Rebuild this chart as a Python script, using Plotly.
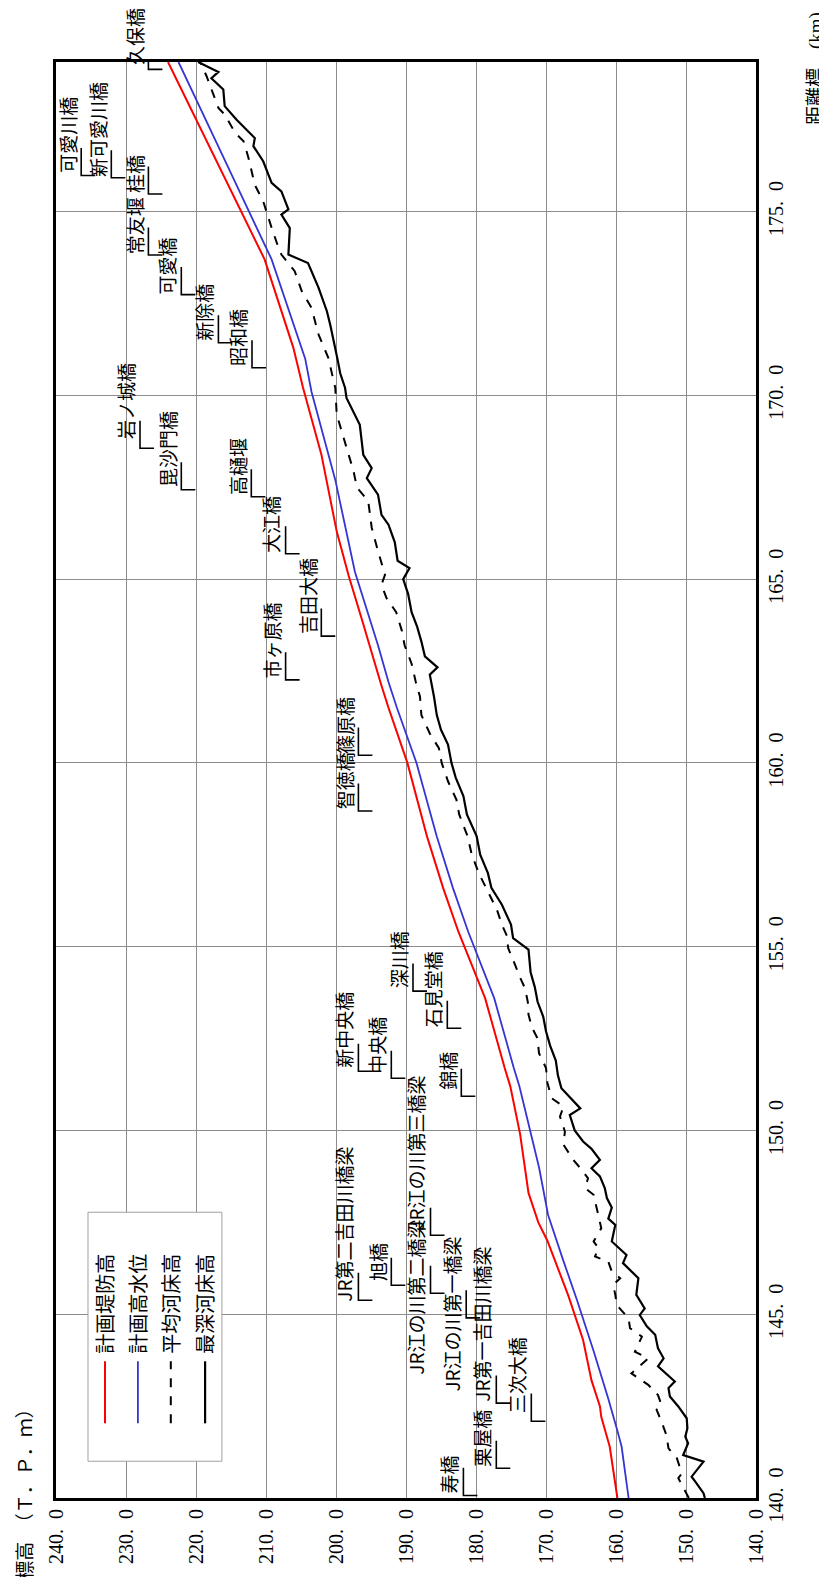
import plotly.graph_objects as go

# ---------------- data ----------------
series_names = ["計画堤防高", "計画高水位", "平均河床高", "最深河床高"]

# 計画堤防高 (red)
levee_km = [140.0, 140.5, 141.1, 141.4, 142.2, 142.5, 143.2, 144.3, 145.5, 147.0, 147.5, 148.3,
            149.9, 150.6, 151.2, 151.7, 153.6, 155.4, 156.6, 158.0, 160.0, 161.5, 162.1, 163.9,
            165.1, 166.3, 168.4, 170.2, 171.3, 173.7, 176.2, 179.07]
levee_elev = [159.8, 160.2, 160.6, 160.9, 162.1, 162.3, 163.5, 164.7, 166.8, 169.8, 171.1, 172.5,
              173.7, 174.4, 175.1, 175.9, 178.7, 182.5, 184.7, 187.0, 189.8, 192.5, 193.5, 196.3,
              198.2, 199.9, 202.1, 204.7, 206.1, 210.2, 216.6, 224.0]

# 計画高水位 (blue)
hwl_km = [140.0, 140.6, 141.4, 141.9, 142.7, 144.0, 145.4, 146.5, 147.7, 149.0, 150.0, 150.6,
          151.2, 151.7, 153.6, 155.4, 156.6, 158.0, 160.0, 161.5, 162.2, 163.2, 165.2, 167.7,
          170.1, 171.0, 173.7, 176.2, 179.07]
hwl_elev = [158.2, 158.6, 159.2, 159.9, 161.1, 163.2, 165.6, 167.6, 169.7, 171.0, 172.3, 173.1,
            173.8, 174.6, 177.4, 181.1, 183.3, 185.6, 188.5, 191.3, 192.5, 194.0, 197.3, 200.1,
            203.5, 204.4, 209.2, 215.4, 222.5]

# 平均河床高 (dashed)
mean_km = [140.0, 140.18, 140.54, 140.67, 141.08, 141.35, 141.71, 142.08, 142.4, 142.53, 142.8,
           143.08, 143.39, 143.8, 143.98, 144.39, 144.62, 144.89, 145.25, 145.53, 145.8, 145.98,
           146.16, 146.43, 146.57, 146.8, 146.98, 147.34, 147.7, 148.07, 148.25, 148.43, 148.7,
           148.93, 149.2, 149.61, 149.97, 150.38, 150.65, 150.88, 151.3, 151.7, 152.1, 152.5,
           152.8, 153.15, 153.5, 153.87, 154.2, 154.5, 154.96, 155.3, 155.6, 156.0, 156.5,
           157.0, 157.5, 158.0, 158.6, 159.0, 159.5, 160.0, 160.4, 160.8, 161.3, 161.8, 162.2,
           162.7, 163.2, 163.6, 164.1, 164.49, 164.85, 165.12, 165.76, 166.4, 167.13, 167.49,
           167.94, 168.58, 169.48, 170.2, 171.02, 171.66, 172.38, 172.84, 173.38, 173.83,
           174.01, 174.56, 175.28, 175.73, 176.46, 176.91, 177.14, 177.64, 177.82, 178.69, 179.07]
mean_elev = [149.6, 150.1, 151.1, 150.6, 151.3, 152.5, 152.8, 153.5, 154.2, 153.5, 154.0,
             155.4, 157.8, 155.4, 157.3, 156.3, 158.0, 158.2, 159.9, 160.1, 160.4, 159.4,
             160.6, 161.1, 163.0, 162.5, 163.2, 162.1, 162.5, 163.0, 163.2, 164.4, 164.0,
             164.9, 166.1, 167.5, 167.3, 168.0, 167.5, 169.2, 169.8, 170.0, 171.0, 171.2,
             172.0, 172.5, 172.6, 173.0, 173.8, 174.4, 175.4, 175.6, 176.3, 177.0, 178.3,
             179.6, 180.6, 181.2, 182.4, 182.8, 184.0, 184.9, 185.3, 186.6, 187.8, 188.0, 188.6,
             189.2, 190.2, 190.6, 191.4, 192.8, 193.5, 193.0, 194.0, 194.9, 195.4, 197.0,
             197.5, 198.5, 199.9, 200.1, 201.1, 202.5, 203.5, 204.9, 205.9, 207.8,
             208.2, 209.2, 210.4, 211.6, 212.5, 213.2, 214.4, 215.9, 216.8, 218.5, 219.4]

# 最深河床高 (black)
deep_km = [140.0, 140.13, 140.45, 140.58, 140.99, 141.17, 141.49, 141.67, 141.9, 142.17, 142.49,
           142.76, 142.99, 143.17, 143.58, 143.8, 144.07, 144.44, 144.67, 144.98, 145.16, 145.53,
           145.98, 146.39, 146.61, 146.98, 147.16, 147.43, 147.6, 147.9, 148.16, 148.43, 148.75,
           148.97, 149.2, 149.5, 149.7, 150.0, 150.42, 150.6, 151.15, 151.5, 151.9, 152.3, 152.7,
           153.1, 153.5, 153.9, 154.3, 154.6, 154.92, 155.23, 155.6, 156.14, 156.6, 157.0, 157.5,
           158.0, 158.6, 159.1, 159.6, 160.0, 160.5, 160.9, 161.3, 161.8, 162.3, 162.4, 162.6,
           162.9, 163.3, 163.7, 164.1, 164.6, 165.0, 165.3, 165.5, 166.0, 166.48, 166.75, 167.3,
           167.75, 168.02, 168.38, 169.2, 169.93, 170.2, 170.6, 171.0, 171.5, 171.9, 172.29,
           172.93, 173.6, 173.83, 174.55, 174.92, 175.06, 175.55, 175.78, 176.37, 176.78, 177.0,
           177.5, 177.87, 178.32, 178.63, 178.8, 179.07]
deep_elev = [147.3, 147.5, 148.7, 149.2, 147.5, 150.4, 149.7, 150.1, 149.8, 149.9, 151.1,
             152.3, 152.5, 151.6, 154.0, 153.2, 154.0, 154.4, 155.6, 156.6, 155.9, 157.1,
             156.8, 159.0, 158.5, 160.6, 160.4, 160.1, 161.1, 160.6, 161.3, 161.6, 162.3,
             163.5, 162.3, 163.5, 164.7, 165.9, 166.6, 165.1, 167.8, 168.3, 168.6, 169.4, 170.0,
             170.4, 171.2, 171.6, 172.2, 172.3, 172.5, 174.7, 175.0, 176.3, 177.8, 178.3, 179.4,
             179.9, 181.3, 181.8, 182.9, 183.5, 184.0, 185.0, 185.6, 186.0, 186.5, 186.6, 185.5,
             187.3, 187.8, 188.4, 189.2, 189.7, 190.4, 189.5, 191.2, 191.6, 192.5, 193.5, 194.0,
             195.6, 194.9, 196.1, 196.6, 198.5, 198.7, 199.4, 199.8, 200.3, 200.8, 201.3,
             202.5, 204.0, 206.8, 206.6, 207.8, 206.8, 207.8, 209.2, 210.4, 211.8, 211.6,
             214.2, 215.9, 216.1, 217.8, 216.8, 219.7]

# bridges / weirs: leader km, label elevation, km where the label text starts
bridge_names = ["寿橋", "栗屋橋", "三次大橋", "JR第一吉田川橋梁", "JR江の川第一橋梁",
                "JR第二吉田川橋梁", "JR江の川第二橋梁", "旭橋", "JR江の川第三橋梁", "錦橋",
                "中央橋", "新中央橋", "石見堂橋", "深川橋", "智徳橋", "篠原橋", "市ヶ原橋",
                "吉田大橋", "大江橋", "高樋堰", "毘沙門橋", "岩ノ城橋", "昭和橋", "新除橋",
                "可愛橋", "常友堰", "桂橋", "新可愛川橋", "可愛川橋", "久保橋"]
bridge_km = [140.07, 140.81, 142.09, 142.58, 144.9, 145.38, 145.57, 145.79, 147.15, 150.93,
             151.42, 151.61, 152.78, 153.79, 158.69, 160.21, 162.26, 163.45, 165.69, 167.24,
             167.43, 168.56, 170.75, 171.43, 172.74, 173.82, 175.48, 175.92, 175.98, 178.87]
label_elev = [181.8, 177.1, 172.1, 177.1, 181.4, 196.8, 186.5, 192.1, 186.5, 182.1,
              192.1, 196.8, 184.1, 189.0, 196.8, 196.8, 207.2, 202.1, 207.2, 212.1,
              222.1, 228.0, 212.0, 216.8, 222.1, 226.8, 226.8, 232.1, 236.4, 226.8]
label_km = [140.12, 140.86, 142.3, 142.63, 142.9, 145.35, 143.34, 145.9, 147.26, 151.1,
            151.55, 151.7, 152.8, 153.87, 158.75, 160.25, 162.3, 163.5, 165.7, 167.3,
            167.5, 168.8, 170.8, 171.5, 172.75, 173.85, 175.5, 175.95, 176.05, 179.0]

elev_ticks = [240, 230, 220, 210, 200, 190, 180, 170, 160, 150, 140]
km_ticks = [140, 145, 150, 155, 160, 165, 170, 175]

# ---------------- figure ----------------
SERIF = "Liberation Serif, Noto Sans CJK JP"
SANS = "Noto Sans CJK JP"

styles = [dict(color="#ff0000", width=2),
          dict(color="#3535d5", width=1.8),
          dict(color="#000000", width=2, dash="dash"),
          dict(color="#000000", width=2.2)]

fig = go.Figure()
for name, xs, ys, st in zip(series_names,
                            [levee_elev, hwl_elev, mean_elev, deep_elev],
                            [levee_km, hwl_km, mean_km, deep_km], styles):
    fig.add_trace(go.Scatter(x=xs, y=ys, name=name, mode="lines", line=st,
                             showlegend=False, hoverinfo="skip"))

# bridge leader brackets
UNDER = 0.75   # km length of underline
LEAD = 2.0     # m length of leader
bx, by = [], []
for km, el in zip(bridge_km, label_elev):
    bx += [el, el, el - LEAD, None]
    by += [km + UNDER, km, km, None]
fig.add_trace(go.Scatter(x=bx, y=by, mode="lines", line=dict(color="black", width=1.6),
                         showlegend=False, hoverinfo="skip", cliponaxis=False))

annotations = []
for name, el, km in zip(bridge_names, label_elev, label_km):
    annotations.append(dict(x=el, y=km, xref="x", yref="y", text=name, textangle=-90,
                            xanchor="right", yanchor="bottom", showarrow=False,
                            xshift=1, yshift=-2,
                            font=dict(family=SANS, size=19, color="black")))

# legend (drawn manually, rotated)
leg_x = [0.070, 0.117, 0.164, 0.213]
shapes = [dict(type="rect", xref="paper", yref="paper", x0=0.0457, x1=0.237, y0=0.0256, y1=0.199,
               line=dict(color="#a0a0a0", width=1), fillcolor="white", layer="above")]
for lx, name, st in zip(leg_x, series_names, styles):
    shapes.append(dict(type="line", xref="paper", yref="paper", x0=lx, x1=lx, y0=0.052, y1=0.0952,
                       line=st, layer="above"))
    annotations.append(dict(x=lx, y=0.099, xref="paper", yref="paper", text=name, textangle=-90,
                            xanchor="center", yanchor="bottom", showarrow=False,
                            font=dict(family=SANS, size=20, color="black")))

# axis titles
annotations.append(dict(x=-0.044, y=-0.0585, xref="paper", yref="paper",
                        text="標高　（Ｔ．Ｐ．ｍ）",
                        textangle=-90, xanchor="center", yanchor="bottom", showarrow=False,
                        font=dict(family=SERIF, size=19, color="black")))
annotations.append(dict(x=1.086, y=1.036, xref="paper", yref="paper", text="距離標　(km)",
                        textangle=-90, xanchor="center", yanchor="top", showarrow=False,
                        font=dict(family=SERIF, size=19, color="black")))

def fmt(v):
    return f"{v:.1f}".replace(".", ".\u2002")

fig.update_layout(
    width=827, height=1577,
    margin=dict(l=48, r=79, t=54, b=87),
    plot_bgcolor="white", paper_bgcolor="white",
    annotations=annotations, shapes=shapes,
    showlegend=False,
)
fig.update_xaxes(range=[240, 140], tickvals=elev_ticks, ticktext=[fmt(v) for v in elev_ticks],
                 tickangle=-90, showgrid=True, gridcolor="#8c8c8c", gridwidth=1,
                 showline=True, linecolor="black", linewidth=3, mirror=True, zeroline=False,
                 ticks="", tickfont=dict(family=SERIF, size=20, color="black"))
fig.update_yaxes(range=[140, 179.07], tickvals=km_ticks, ticktext=[fmt(v) for v in km_ticks],
                 side="right", tickangle=-90, showgrid=True, gridcolor="#8c8c8c", gridwidth=1,
                 showline=True, linecolor="black", linewidth=3, mirror=True, zeroline=False,
                 ticks="", tickfont=dict(family=SERIF, size=20, color="black"))

fig.write_html("out.html")
